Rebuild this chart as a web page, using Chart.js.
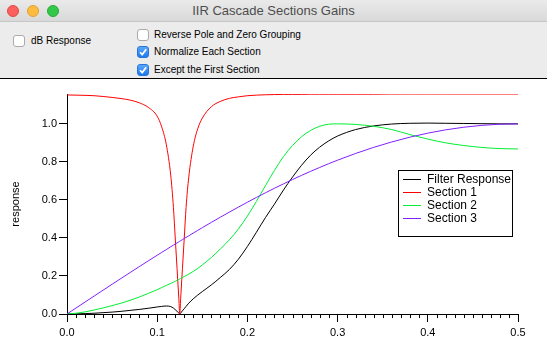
<!DOCTYPE html>
<html>
<head>
<meta charset="utf-8">
<script src="https://cdn.jsdelivr.net/npm/chart.js@4/dist/chart.umd.min.js"></script>
<style>
  html,body{margin:0;padding:0;}
  body{width:547px;height:357px;overflow:hidden;background:#fff;position:relative;font-family:"Liberation Sans",Arial,sans-serif;}
  #chrome{position:absolute;left:0;top:0;width:547px;height:79px;background:#ececec;}
  #titlebar{position:absolute;left:0;top:0;width:547px;height:22px;background:linear-gradient(#eaeaea,#d9d9d9);border-bottom:1px solid #c6c6c6;box-sizing:border-box;}
  #title{position:absolute;left:0;top:0;width:547px;height:22px;line-height:22px;text-align:center;font-size:13px;color:#4d4d4d;}
  .light{position:absolute;top:5px;width:12px;height:12px;border-radius:50%;box-sizing:border-box;}
  .cb{position:absolute;width:12px;height:12px;border-radius:3px;box-sizing:border-box;}
  .cb.off{background:#fff;border:1px solid #aaa;}
  .cb.on{background:linear-gradient(#5aa8fb,#1f78f0);border:1px solid #2a74d8;}
  .lbl{position:absolute;font-size:10px;color:#000;line-height:12px;white-space:nowrap;}
  #sep{position:absolute;left:0;top:78px;width:547px;height:1px;background:#000;}
  #wrap{position:absolute;left:0;top:80px;width:547px;height:277px;}
</style>
</head>
<body>
<div id="chrome">
  <div id="titlebar">
    <div class="light" style="left:7px;background:#fc605c;border:1px solid #de4a45;"></div>
    <div class="light" style="left:27px;background:#fdbc40;border:1px solid #dea236;"></div>
    <div class="light" style="left:47px;background:#34c84a;border:1px solid #27aa35;"></div>
    <div id="title">IIR Cascade Sections Gains</div>
  </div>
  <div class="cb off" style="left:13px;top:35px;"></div>
  <div class="lbl" style="left:31px;top:35px;">dB Response</div>
  <div class="cb off" style="left:137px;top:29px;"></div>
  <div class="lbl" style="left:154px;top:29px;">Reverse Pole and Zero Grouping</div>
  <div class="cb on" style="left:137px;top:46px;"><svg width="10" height="10" style="position:absolute;left:0;top:0"><path d="M2 5.2 L4.2 7.6 L8.2 2.2" stroke="#fff" stroke-width="1.7" fill="none"/></svg></div>
  <div class="lbl" style="left:154px;top:46px;">Normalize Each Section</div>
  <div class="cb on" style="left:137px;top:64px;"><svg width="10" height="10" style="position:absolute;left:0;top:0"><path d="M2 5.2 L4.2 7.6 L8.2 2.2" stroke="#fff" stroke-width="1.7" fill="none"/></svg></div>
  <div class="lbl" style="left:154px;top:64px;">Except the First Section</div>
</div>
<div id="sep"></div>
<div id="wrap"><canvas id="c" width="547" height="277"></canvas></div>
<script>
// ---- data ----
const freq = [0,0.01,0.02,0.03,0.04,0.05,0.06,0.07,0.08,0.09,0.10,0.105,0.11,0.115,0.118,0.12,0.122,0.124,0.125,0.126,0.128,0.13,0.132,0.135,0.14,0.145,0.15,0.16,0.17,0.18,0.19,0.20,0.21,0.22,0.23,0.24,0.25,0.26,0.27,0.28,0.29,0.30,0.32,0.34,0.36,0.38,0.40,0.42,0.44,0.46,0.48,0.50];

const filterResponse = [0,0.001,0.002,0.004,0.007,0.010,0.014,0.019,0.024,0.030,0.037,0.040,0.042,0.039,0.031,0.023,0.014,0.005,0,0.005,0.017,0.028,0.040,0.057,0.080,0.100,0.118,0.153,0.192,0.234,0.288,0.355,0.430,0.507,0.578,0.652,0.720,0.782,0.835,0.877,0.910,0.936,0.970,0.989,0.999,1.003,1.004,1.003,1.002,1.001,1.000,1.000];

const section1 = [1.152,1.151,1.150,1.148,1.144,1.139,1.133,1.125,1.111,1.087,1.040,0.984,0.893,0.730,0.560,0.400,0.240,0.080,0,0.080,0.240,0.400,0.560,0.720,0.883,0.975,1.030,1.090,1.118,1.134,1.142,1.148,1.151,1.153,1.154,1.155,1.155,1.155,1.156,1.156,1.156,1.156,1.156,1.156,1.157,1.157,1.157,1.157,1.157,1.157,1.157,1.157];

const section2 = [0,0.004,0.011,0.021,0.032,0.044,0.057,0.072,0.089,0.108,0.128,0.139,0.150,0.161,0.167,0.172,0.177,0.182,0.184,0.187,0.192,0.197,0.202,0.210,0.224,0.240,0.258,0.297,0.342,0.390,0.447,0.515,0.592,0.675,0.755,0.828,0.886,0.932,0.965,0.987,0.998,1.000,0.997,0.987,0.970,0.944,0.920,0.900,0.886,0.876,0.870,0.868];

const section3 = [0,0.0314,0.0628,0.0941,0.1253,0.1564,0.1874,0.2181,0.2487,0.2790,0.3090,0.3239,0.3387,0.3535,0.3624,0.3681,0.3738,0.3795,0.3827,0.3855,0.3910,0.3971,0.4028,0.4111,0.4258,0.4399,0.4540,0.4818,0.5090,0.5358,0.5621,0.5878,0.6129,0.6374,0.6613,0.6845,0.7071,0.7290,0.7501,0.7705,0.7902,0.8090,0.8443,0.8763,0.9048,0.9298,0.9511,0.9686,0.9823,0.9921,0.9980,1.0];

const seriesNames = ["Filter Response","Section 1","Section 2","Section 3"];
const xTicks = [0,0.1,0.2,0.3,0.4,0.5];
const yTicks = [0,0.2,0.4,0.6,0.8,1.0];
const xTickLabels = ["0.0","0.1","0.2","0.3","0.4","0.5"];
const yTickLabels = ["0.0","0.2","0.4","0.6","0.8","1.0"];

// ---- build chart ----
const colors = ["#000000","#ff0000","#00ee33","#8020ff"];
const seriesValues = [filterResponse, section1, section2, section3];
const datasets = seriesValues.map((vals,i)=>({
  label: seriesNames[i],
  data: freq.map((f,k)=>({x:f,y:vals[k]})),
  borderColor: colors[i],
  backgroundColor: colors[i],
  borderWidth: 1,
  pointRadius: 0,
  cubicInterpolationMode: 'monotone',
  fill: false
}));
datasets.reverse(); // draw black on top

const minorTicks = {
  id:'minorTicks',
  afterDraw(chart){
    const xs = chart.scales.x, ctx = chart.ctx;
    const yb = chart.chartArea.bottom;
    ctx.save();
    ctx.strokeStyle = '#000';
    ctx.lineWidth = 1;
    ctx.beginPath();
    for(let i=0;i<=50;i++){
      if(i%10===0) continue;
      const px = Math.round(xs.getPixelForValue(i/100))+0.5;
      ctx.moveTo(px, yb);
      ctx.lineTo(px, yb+4);
    }
    ctx.stroke();
    ctx.restore();
  }
};

const boxLegend = {
  id:'boxLegend',
  afterDraw(chart){
    const ctx = chart.ctx;
    const bx = 398.5, by = 90.5, bw = 114, bh = 66;
    ctx.save();
    ctx.fillStyle = '#fff';
    ctx.fillRect(bx,by,bw,bh);
    ctx.strokeStyle = '#000';
    ctx.lineWidth = 1;
    ctx.strokeRect(bx,by,bw,bh);
    ctx.font = '12px "Liberation Sans", Arial, sans-serif';
    ctx.textBaseline = 'middle';
    ctx.textAlign = 'left';
    seriesNames.forEach((name,i)=>{
      const y = Math.round(98.5 + i*13.1) + 0.5;
      ctx.strokeStyle = colors[i];
      ctx.beginPath();
      ctx.moveTo(403, y);
      ctx.lineTo(421, y);
      ctx.stroke();
      ctx.fillStyle = '#000';
      ctx.fillText(name, 427, y+0.5);
    });
    ctx.restore();
  }
};

new Chart(document.getElementById('c'), {
  type:'line',
  data:{datasets},
  options:{
    responsive:false,
    animation:false,
    events:[],
    layout:{padding:{left:0,right:29,top:14,bottom:0}},
    plugins:{legend:{display:false},tooltip:{enabled:false}},
    scales:{
      x:{
        type:'linear', min:0, max:0.5,
        afterBuildTicks:(s)=>{ s.ticks = xTicks.map(v=>({value:v})); },
        afterFit:(s)=>{ s.height = 43; },
        ticks:{
          padding:4, color:'#000', maxRotation:0, autoSkip:false,
          font:{family:'"Liberation Sans", Arial, sans-serif', size:11},
          callback:(v,i)=>xTickLabels[i]
        },
        grid:{drawOnChartArea:false, drawTicks:true, tickLength:8, color:'#000', tickColor:'#000'},
        border:{display:true, color:'#000', width:1}
      },
      y:{
        type:'linear', min:0, max:1.157,
        afterBuildTicks:(s)=>{ s.ticks = yTicks.map(v=>({value:v})); },
        afterFit:(s)=>{ s.width = 67; },
        ticks:{
          padding:2, color:'#000',
          font:{family:'"Liberation Sans", Arial, sans-serif', size:11},
          callback:(v,i)=>yTickLabels[i]
        },
        title:{display:true, text:'response', color:'#000', padding:{top:9,bottom:0},
          font:{family:'"Liberation Sans", Arial, sans-serif', size:11}},
        grid:{drawOnChartArea:false, drawTicks:true, tickLength:8, color:'#000', tickColor:'#000'},
        border:{display:true, color:'#000', width:1}
      }
    }
  },
  plugins:[minorTicks, boxLegend]
});
</script>
</body>
</html>
